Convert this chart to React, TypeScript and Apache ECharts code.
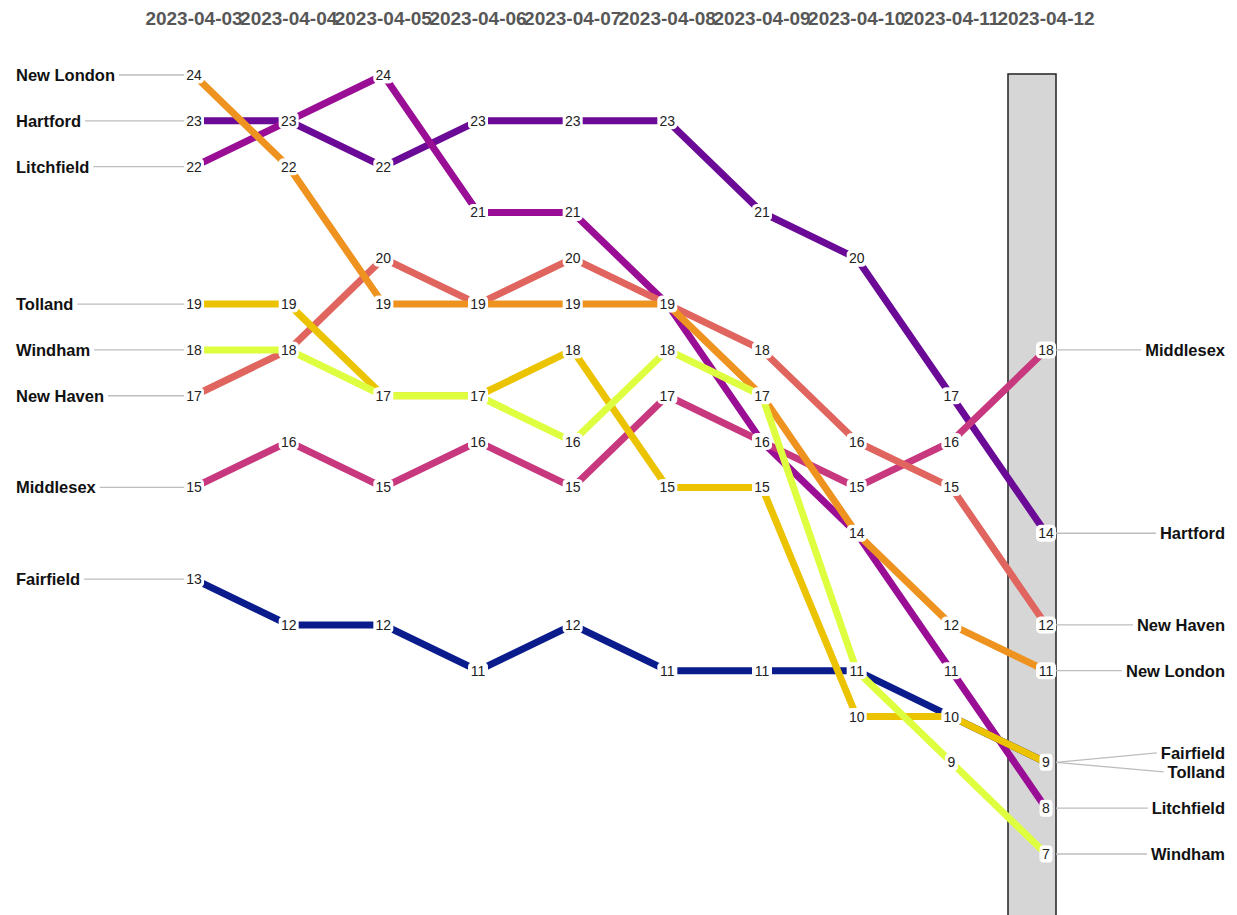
import React, { useEffect, useRef } from "react";
import * as echarts from "echarts";

const dates = [
  "2023-04-03", "2023-04-04", "2023-04-05", "2023-04-06", "2023-04-07",
  "2023-04-08", "2023-04-09", "2023-04-10", "2023-04-11", "2023-04-12",
];

const seriesNames = [
  "Fairfield", "Hartford", "Litchfield", "Middlesex",
  "New Haven", "New London", "Tolland", "Windham",
];

const fairfield = [13, 12, 12, 11, 12, 11, 11, 11, 10, 9];
const hartford = [23, 23, 22, 23, 23, 23, 21, 20, 17, 14];
const litchfield = [22, 23, 24, 21, 21, 19, 16, 14, 11, 8];
const middlesex = [15, 16, 15, 16, 15, 17, 16, 15, 16, 18];
const newHaven = [17, 18, 20, 19, 20, 19, 18, 16, 15, 12];
const newLondon = [24, 22, 19, 19, 19, 19, 17, 14, 12, 11];
const tolland = [19, 19, 17, 17, 18, 15, 15, 10, 10, 9];
const windham = [18, 18, 17, 17, 16, 18, 17, 11, 9, 7];

const seriesValues = [fairfield, hartford, litchfield, middlesex, newHaven, newLondon, tolland, windham];

const colors = [
  "#0A1C8C", "#6A0A96", "#9A0E96", "#C8387F",
  "#E0655F", "#EE931F", "#EBC300", "#DDFF40",
];

const FONT_FAMILY = "'Liberation Sans', Arial, sans-serif";
const NAME_FONT = "bold 16.5px " + FONT_FAMILY;

function measure(text: string): number {
  const c = document.createElement("canvas");
  const ctx = c.getContext("2d");
  if (!ctx) return text.length * 10;
  ctx.font = NAME_FONT;
  return ctx.measureText(text).width;
}

export default function App() {
  const ref = useRef<HTMLDivElement>(null);

  useEffect(() => {
    if (!ref.current) return;
    const chart = echarts.init(ref.current, undefined, { renderer: "svg" });

    const lineSeries = seriesNames.map((name, si) => ({
      name,
      type: "line",
      data: seriesValues[si],
      symbol: "none",
      z: 2,
      lineStyle: { color: colors[si], width: 7, cap: "butt" },
      itemStyle: { color: colors[si] },
    }));

    const seen: Record<string, boolean> = {};
    const labelData: any[] = [];
    seriesValues.forEach((vals) => {
      vals.forEach((v, i) => {
        const key = i + "_" + v;
        if (!seen[key]) {
          seen[key] = true;
          labelData.push([i, v]);
        }
      });
    });

    chart.setOption({
      animation: false,
      grid: { left: 194, right: 191, top: 75, bottom: 61 },
      xAxis: {
        type: "category",
        data: dates,
        boundaryGap: false,
        position: "top",
        axisLine: { show: false },
        axisTick: { show: false },
        splitLine: { show: false },
        axisLabel: {
          margin: 47,
          fontSize: 19,
          fontWeight: "bold",
          color: "#575757",
          fontFamily: FONT_FAMILY,
          interval: 0,
        },
      },
      yAxis: { type: "value", min: 7, max: 24, show: false },
      series: [
        ...lineSeries,
        {
          type: "scatter",
          z: 10,
          data: labelData,
          symbol: "roundRect",
          symbolSize: (val: number[]) => (val[1] >= 10 ? [20, 17] : [13, 17]),
          itemStyle: { color: "#ffffff", opacity: 1 },
          silent: true,
          label: {
            show: true,
            position: "inside",
            formatter: (p: any) => String(p.value[1]),
            fontSize: 14,
            color: "#222222",
            fontFamily: FONT_FAMILY,
          },
        },
      ],
    });

    const graphics: any[] = [];
    const lastIdx = dates.length - 1;
    const topPx = chart.convertToPixel({ gridIndex: 0 }, [lastIdx, 24]) as number[];
    graphics.push({
      type: "rect",
      z: 0,
      shape: { x: topPx[0] - 38, y: topPx[1] - 1, width: 48, height: 900 },
      style: { fill: "#D6D6D6", stroke: "#222222", lineWidth: 1.5 },
      silent: true,
    });

    const leaderStyle = { stroke: "#BDBDBD", lineWidth: 1.3 };

    // left labels
    seriesNames.forEach((name, si) => {
      const p = chart.convertToPixel({ gridIndex: 0 }, [0, seriesValues[si][0]]) as number[];
      const w = measure(name);
      graphics.push({
        type: "line",
        z: 1,
        shape: { x1: 16 + w + 4, y1: p[1], x2: p[0] - 10, y2: p[1] },
        style: leaderStyle,
        silent: true,
      });
      graphics.push({
        type: "text",
        z: 1,
        x: 16,
        y: p[1],
        style: {
          text: name,
          font: NAME_FONT,
          fill: "#111111",
          textAlign: "left",
          textVerticalAlign: "middle",
          verticalAlign: "middle",
        },
        silent: true,
      });
    });

    // right labels with tie spreading
    const groups: Record<string, number[]> = {};
    seriesNames.forEach((_, si) => {
      const v = seriesValues[si][lastIdx];
      (groups[v] = groups[v] || []).push(si);
    });
    const rightEdge = 1225;
    Object.keys(groups).forEach((k) => {
      const members = groups[k];
      const n = members.length;
      members.forEach((si, j) => {
        const name = seriesNames[si];
        const p = chart.convertToPixel({ gridIndex: 0 }, [lastIdx, seriesValues[si][lastIdx]]) as number[];
        const ty = p[1] + (j - (n - 1) / 2) * 19;
        const w = measure(name);
        graphics.push({
          type: "line",
          z: 1,
          shape: { x1: p[0] + 10, y1: p[1], x2: rightEdge - w - 4, y2: ty },
          style: leaderStyle,
          silent: true,
        });
        graphics.push({
          type: "text",
          z: 1,
          x: rightEdge,
          y: ty,
          style: {
            text: name,
            font: NAME_FONT,
            fill: "#111111",
            textAlign: "right",
            textVerticalAlign: "middle",
            verticalAlign: "middle",
          },
          silent: true,
        });
      });
    });

    chart.setOption({ graphic: graphics });

    return () => chart.dispose();
  }, []);

  return (
    <div
      ref={ref}
      style={{ position: "fixed", left: 0, top: 0, width: 1237, height: 915, background: "#ffffff" }}
    />
  );
}
